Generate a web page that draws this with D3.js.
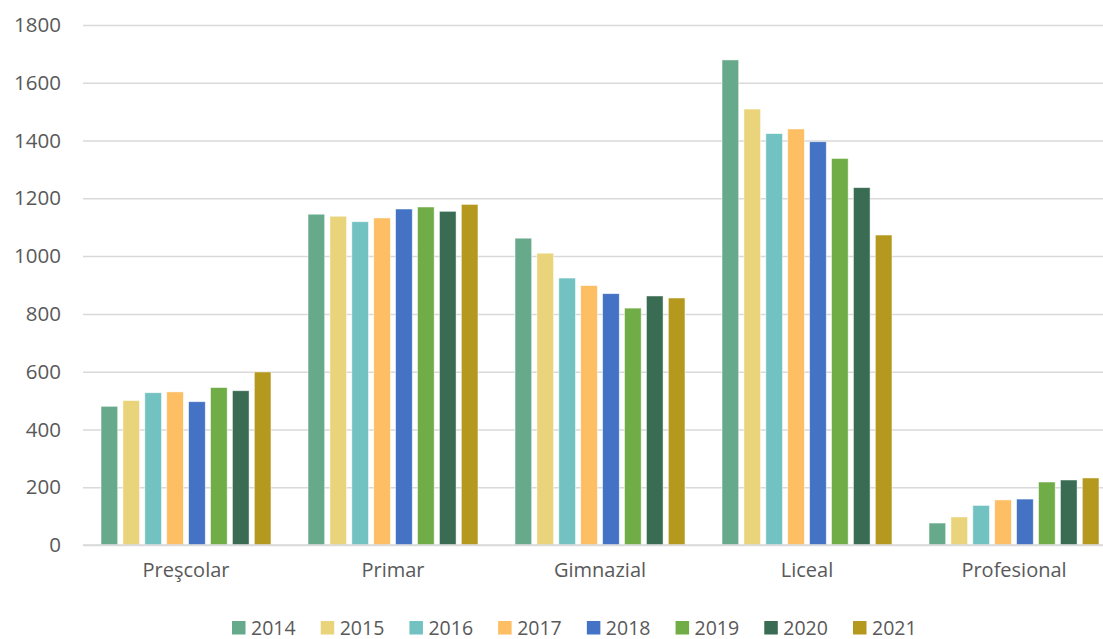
<!DOCTYPE html>
<html>
<head>
<meta charset="utf-8">
<script src="https://cdn.jsdelivr.net/npm/d3@7"></script>
<style>
  html, body { margin: 0; padding: 0; background: #fff; }
  svg { display: block; font-family: "Open Sans", sans-serif; }
</style>
</head>
<body>
<svg id="chart" width="1103" height="639"></svg>
<script>
const categories = ["Preşcolar", "Primar", "Gimnazial", "Liceal", "Profesional"];
const years = ["2014", "2015", "2016", "2017", "2018", "2019", "2020", "2021"];
const colors = ["#66a98b", "#e9d47b", "#72c2c1", "#fdbe64", "#4472c4", "#70ad47", "#3a6b53", "#b5991f"];
const yTicks = [0, 200, 400, 600, 800, 1000, 1200, 1400, 1600, 1800];

const v2014 = [480, 1145, 1062, 1679, 76];
const v2015 = [500, 1138, 1010, 1509, 97];
const v2016 = [527, 1119, 924, 1424, 137];
const v2017 = [530, 1132, 898, 1440, 156];
const v2018 = [496, 1163, 870, 1396, 159];
const v2019 = [545, 1170, 820, 1338, 218];
const v2020 = [534, 1155, 862, 1237, 225];
const v2021 = [599, 1179, 855, 1073, 232];
const seriesValues = [v2014, v2015, v2016, v2017, v2018, v2019, v2020, v2021];

const svg = d3.select("#chart");
const x0 = d3.scaleBand().domain(categories).range([82.5, 1117.5])
  .paddingInner(0.179).paddingOuter(0.0895);
const x1 = d3.scaleBand().domain(years).range([0, x0.bandwidth()]).paddingInner(0.24);
const y = d3.scaleLinear().domain([0, 1800]).range([545, 25]);

// gridlines
const yAxis = d3.axisLeft(y).tickValues(yTicks).tickFormat(d3.format("d"))
  .tickSize(-(1117.5 - 83)).tickPadding(22);
const gAxis = svg.append("g").attr("transform", "translate(83,0)").call(yAxis);
gAxis.select(".domain").remove();
gAxis.selectAll(".tick line").attr("stroke", "#d9d9d9").attr("stroke-width", 1.5);
gAxis.selectAll(".tick text").attr("fill", "#595959").attr("font-size", "20.5px")
  .attr("font-family", "'Open Sans', sans-serif");

// bars
const data = [];
categories.forEach((c, ci) => {
  years.forEach((yr, yi) => {
    data.push({ cat: c, year: yr, value: seriesValues[yi][ci], color: colors[yi] });
  });
});
svg.append("g").selectAll("rect").data(data).join("rect")
  .attr("x", d => x0(d.cat) + x1(d.year))
  .attr("width", x1.bandwidth())
  .attr("y", d => y(d.value))
  .attr("height", d => y(0) - y(d.value))
  .attr("fill", d => d.color)
  .attr("stroke", "#ffffff")
  .attr("stroke-opacity", 0.6)
  .attr("stroke-width", 0.8);

// baseline
svg.append("line").attr("x1", 83).attr("x2", 1117.5).attr("y1", y(0)).attr("y2", y(0))
  .attr("stroke", "#d9d9d9").attr("stroke-width", 1.5);

// category labels
const xAxis = d3.axisBottom(x0).tickSize(0).tickPadding(18);
const gx = svg.append("g").attr("transform", `translate(0,${y(0)})`).call(xAxis);
gx.select(".domain").remove();
gx.selectAll(".tick text").attr("fill", "#595959").attr("font-size", "20px")
  .attr("font-family", "'Open Sans', sans-serif");

// legend
const legendX = d3.scalePoint().domain(years).range([232, 853]);
const leg = svg.append("g").selectAll("g").data(years).join("g")
  .attr("transform", d => `translate(${legendX(d)},621)`);
leg.append("rect").attr("width", 13.5).attr("height", 13.5)
  .attr("fill", (d, i) => colors[i]);
leg.append("text").attr("x", 19).attr("y", 13.5)
  .attr("fill", "#595959").attr("font-size", "19.5px")
  .text(d => d);
</script>
</body>
</html>
